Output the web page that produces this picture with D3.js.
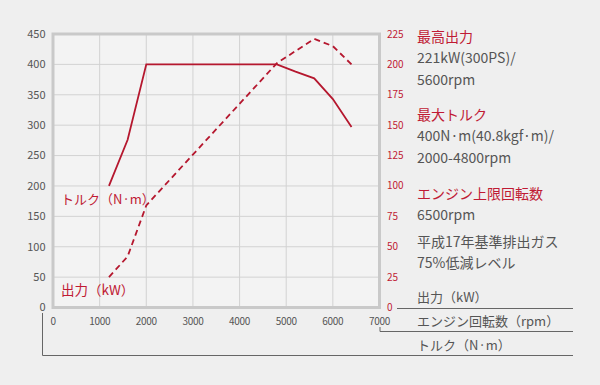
<!DOCTYPE html>
<html>
<head>
<meta charset="utf-8">
<script src="https://cdn.jsdelivr.net/npm/d3@7"></script>
<style>
  html, body { margin: 0; padding: 0; background: #efefef; }
  svg { display: block; font-family: "Noto Sans CJK JP", "Noto Sans", sans-serif; }
</style>
</head>
<body>
<div id="chart"></div>
<script>
// rpm sample points and readings from the reference
var rpm = [1200, 1600, 2000, 4800, 5200, 5600, 6000, 6400];
var torque = [200, 276, 400, 400, 388, 377, 343, 297];   // N·m (left axis)
var power = [25, 42, 84, 201, 211, 221, 215, 200];        // kW (right axis)

var xTicks = [0, 1000, 2000, 3000, 4000, 5000, 6000, 7000];
var torqueTicks = [0, 50, 100, 150, 200, 250, 300, 350, 400, 450];
var powerTicks = [0, 25, 50, 75, 100, 125, 150, 175, 200, 225];

var specs = [
  {text: "最高出力", red: true},
  {text: "221kW(300PS)/"},
  {text: "5600rpm"},
  {text: "最大トルク", red: true},
  {text: "400N·m(40.8kgf·m)/"},
  {text: "2000-4800rpm"},
  {text: "エンジン上限回転数", red: true},
  {text: "6500rpm"},
  {text: "平成17年基準排出ガス"},
  {text: "75%低減レベル"}
];
var specY = [37, 58, 80, 115, 136, 158, 194, 215, 242, 263];

var W = 600, H = 385;
var red = "#b5172e", redText = "#c01a34", gray = "#555";

var svg = d3.select("#chart").append("svg")
  .attr("width", W)
  .attr("height", H);

svg.append("rect").attr("width", W).attr("height", H).attr("fill", "#efefef");

var x = d3.scaleLinear().domain([0, 7000]).range([53, 379.5]);
var yT = d3.scaleLinear().domain([0, 450]).range([307.5, 34]);
var yP = d3.scaleLinear().domain([0, 225]).range([307.5, 34]);

// plot background
svg.append("rect")
  .attr("x", x(0)).attr("y", yT(450))
  .attr("width", x(7000) - x(0)).attr("height", yT(0) - yT(450))
  .attr("fill", "#f3f3f3");

// grid
svg.append("g").selectAll("line")
  .data(xTicks.slice(1, -1))
  .enter().append("line")
  .attr("x1", function(d){ return x(d); })
  .attr("x2", function(d){ return x(d); })
  .attr("y1", yT(450)).attr("y2", yT(0))
  .attr("stroke", "#d2d2d2").attr("stroke-width", 1);

svg.append("g").selectAll("line")
  .data(torqueTicks.slice(1, -1))
  .enter().append("line")
  .attr("x1", x(0)).attr("x2", x(7000))
  .attr("y1", function(d){ return yT(d); })
  .attr("y2", function(d){ return yT(d); })
  .attr("stroke", "#d2d2d2").attr("stroke-width", 1);

// frame
svg.append("rect")
  .attr("x", x(0)).attr("y", yT(450))
  .attr("width", x(7000) - x(0)).attr("height", yT(0) - yT(450))
  .attr("fill", "none").attr("stroke", "#c9c9c9").attr("stroke-width", 3);

// left axis labels
svg.append("g").selectAll("text")
  .data(torqueTicks)
  .enter().append("text")
  .attr("x", 45.5)
  .attr("y", function(d){ return yT(d); })
  .attr("dy", "0.35em")
  .attr("text-anchor", "end")
  .attr("font-size", 11)
  .attr("fill", gray)
  .text(function(d){ return d; });

// right axis labels
svg.append("g").selectAll("text")
  .data(powerTicks)
  .enter().append("text")
  .attr("x", 387)
  .attr("y", function(d){ return yP(d); })
  .attr("dy", "0.35em")
  .attr("font-size", 10)
  .attr("fill", redText)
  .text(function(d){ return d; });

// bottom axis labels
svg.append("g").selectAll("text")
  .data(xTicks)
  .enter().append("text")
  .attr("x", function(d){ return x(d); })
  .attr("y", 321)
  .attr("dy", "0.35em")
  .attr("text-anchor", "middle")
  .attr("font-size", 10)
  .attr("fill", gray)
  .attr("letter-spacing", -0.3)
  .text(function(d){ return d; });

// unit guide lines under the chart
var guide = svg.append("g").attr("stroke", "#666").attr("stroke-width", 1).attr("fill", "none");
guide.append("path").attr("d", "M397,308.5H573");
guide.append("path").attr("d", "M" + (x(7000) + 0.5) + ",327V331.5H573");
guide.append("path").attr("d", "M42.5,313V355.5H573");

var units = [
  {text: "出力（kW）", y: 297},
  {text: "エンジン回転数（rpm）", y: 321},
  {text: "トルク（N·m）", y: 345}
];
svg.append("g").selectAll("text")
  .data(units)
  .enter().append("text")
  .attr("x", 417)
  .attr("y", function(d){ return d.y; })
  .attr("dy", "0.35em")
  .attr("font-size", 13)
  .attr("fill", gray)
  .text(function(d){ return d.text; });

// lines
var torqueLine = d3.line()
  .x(function(d, i){ return x(rpm[i]); })
  .y(function(d){ return yT(d); });
var powerLine = d3.line()
  .x(function(d, i){ return x(rpm[i]); })
  .y(function(d){ return yP(d); });

svg.append("path")
  .datum(power)
  .attr("d", powerLine)
  .attr("fill", "none")
  .attr("stroke", red)
  .attr("stroke-width", 1.8)
  .attr("stroke-dasharray", "6,4");

svg.append("path")
  .datum(torque)
  .attr("d", torqueLine)
  .attr("fill", "none")
  .attr("stroke", red)
  .attr("stroke-width", 1.8);

// series labels inside plot
svg.append("text")
  .attr("x", 61).attr("y", 199).attr("dy", "0.35em")
  .attr("font-size", 13).attr("fill", redText)
  .text("トルク（N·m）");
svg.append("text")
  .attr("x", 61).attr("y", 290).attr("dy", "0.35em")
  .attr("font-size", 13.5).attr("fill", redText)
  .text("出力（kW）");

// spec panel
svg.append("g").selectAll("text")
  .data(specs)
  .enter().append("text")
  .attr("x", 417)
  .attr("y", function(d, i){ return specY[i]; })
  .attr("dy", "0.35em")
  .attr("font-size", 14)
  .attr("fill", function(d){ return d.red ? redText : gray; })
  .text(function(d){ return d.text; });
</script>
</body>
</html>
